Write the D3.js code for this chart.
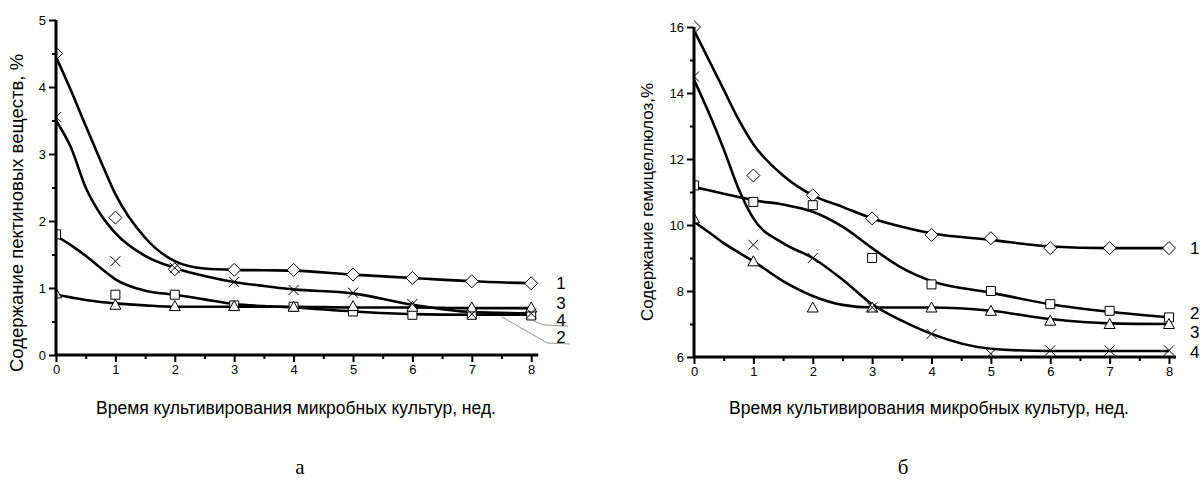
<html>
<head>
<meta charset="utf-8">
<title>Содержание пектиновых веществ и гемицеллюлоз</title>
<script src="https://cdn.jsdelivr.net/npm/d3@7"></script>
<style>
  body { margin: 0; background: #fff; }
  text { font-family: "Liberation Sans", Arial, sans-serif; fill: #000; }
</style>
</head>
<body>
<script>
// measured weeks and values (markers)
var weeks = [0, 1, 2, 3, 4, 5, 6, 7, 8];
var pectin1 = [4.5, 2.05, 1.28, 1.27, 1.27, 1.2, 1.15, 1.1, 1.07];
var pectin2 = [1.8, 0.9, 0.9, 0.74, 0.72, 0.65, 0.6, 0.6, 0.59];
var pectin3 = [0.92, 0.75, 0.73, 0.73, 0.72, 0.73, 0.72, 0.71, 0.71];
var pectin4 = [3.55, 1.4, 1.3, 1.09, 0.97, 0.93, 0.76, 0.61, 0.62];

var hemi1 = [16.0, 11.5, 10.9, 10.2, 9.7, 9.6, 9.3, 9.3, 9.3];
var hemi2 = [11.2, 10.7, 10.6, 9.0, 8.2, 8.0, 7.6, 7.4, 7.2];
var hemi3 = [10.2, 8.9, 7.5, 7.5, 7.5, 7.4, 7.1, 7.0, 7.0];
var hemi4 = [14.5, 9.4, 9.0, 7.5, 6.7, 6.1, 6.2, 6.2, 6.2];

// fitted curves
var fitWeeks = [0, 0.25, 0.5, 0.75, 1, 1.5, 2, 2.5, 3, 3.5, 4, 5, 6, 7, 8];
var pectinFit1 = [4.45, 3.95, 3.42, 2.9, 2.4, 1.75, 1.4, 1.29, 1.27, 1.265, 1.26, 1.2, 1.15, 1.1, 1.07];
var pectinFit2 = [1.78, 1.64, 1.48, 1.3, 1.13, 0.96, 0.9, 0.83, 0.76, 0.73, 0.71, 0.65, 0.61, 0.6, 0.6];
var pectinFit3 = [0.9, 0.86, 0.82, 0.79, 0.77, 0.74, 0.72, 0.72, 0.72, 0.72, 0.72, 0.71, 0.71, 0.7, 0.7];
var pectinFit4 = [3.5, 3.1, 2.5, 2.1, 1.82, 1.48, 1.3, 1.18, 1.09, 1.03, 0.98, 0.92, 0.75, 0.64, 0.62];

var hemiFit1 = [15.9, 15.0, 14.1, 13.2, 12.45, 11.5, 10.9, 10.55, 10.2, 9.95, 9.75, 9.55, 9.35, 9.3, 9.3];
var hemiFit2 = [11.15, 11.05, 10.95, 10.85, 10.75, 10.62, 10.4, 9.95, 9.3, 8.7, 8.3, 7.95, 7.6, 7.37, 7.2];
var hemiFit3 = [10.1, 9.78, 9.45, 9.17, 8.9, 8.3, 7.85, 7.58, 7.5, 7.5, 7.5, 7.4, 7.15, 7.02, 7.0];
var hemiFit4 = [14.4, 13.4, 12.3, 11.1, 10.2, 9.45, 9.0, 8.35, 7.6, 7.1, 6.7, 6.25, 6.18, 6.18, 6.18];

var seriesNames = ["1", "2", "3", "4"];
var markerTypes = ["diamond", "square", "triangle", "cross"];

var pectinLabelY = [1.075, 0.27, 0.776, 0.52];   // label positions for 1,2,3,4
var hemiLabelY = [9.3, 7.34, 6.77, 6.15];

// leader lines (left chart) in data units: for "2" and "4"
var leader2 = [[7.5, 0.57], [8.27, 0.18], [8.65, 0.165]];
var leader4 = [[7.93, 0.55], [8.2, 0.45], [8.62, 0.43]];

var xTicks = [0, 1, 2, 3, 4, 5, 6, 7, 8];
var xMinor = [0.5, 1.5, 2.5, 3.5, 4.5, 5.5, 6.5, 7.5];
var pectinTicks = [0, 1, 2, 3, 4, 5];
var pectinMinor = [0.5, 1.5, 2.5, 3.5, 4.5];
var hemiTicks = [6, 8, 10, 12, 14, 16];
var hemiMinor = [7, 9, 11, 13, 15];

var xTitle = "Время культивирования микробных культур, нед.";

var w = 1201, h = 480;
var svg = d3.select("body").append("svg").attr("width", w).attr("height", h);

function markerPath(type) {
    if (type == "diamond") return "M0,-6.5L6.5,0L0,6.5L-6.5,0Z";
    if (type == "square") return "M-4.5,-4.5H4.5V4.5H-4.5Z";
    if (type == "triangle") return "M0,-5.5L5.5,4.5L-5.5,4.5Z";
    return "M-5,-5L5,5M5,-5L-5,5";
}

function drawPanel(cfg) {
    var x = d3.scaleLinear().domain([0, 8]).range([cfg.left, cfg.right]);
    var y = d3.scaleLinear().domain(cfg.yDomain).range([cfg.bottom, cfg.top]);
    var g = svg.append("g");

    g.append("clipPath").attr("id", cfg.id + "clip")
        .append("rect").attr("x", cfg.left).attr("y", 0)
        .attr("width", w - cfg.left).attr("height", h);

    var plot = g.append("g").attr("clip-path", "url(#" + cfg.id + "clip)");

    var line = d3.line()
        .x(function(d) { return x(d[0]); })
        .y(function(d) { return y(d[1]); })
        .curve(d3.curveMonotoneX);

    cfg.fits.forEach(function(vals) {
        plot.append("path")
            .datum(fitWeeks.map(function(t, i) { return [t, vals[i]]; }))
            .attr("d", line)
            .attr("fill", "none")
            .attr("stroke", "#000")
            .attr("stroke-width", 2.6);
    });

    cfg.points.forEach(function(vals, s) {
        plot.selectAll(null)
            .data(weeks.map(function(t, i) { return [t, vals[i]]; }))
            .enter()
            .append("path")
            .attr("transform", function(d) { return "translate(" + x(d[0]) + "," + y(d[1]) + ")"; })
            .attr("d", markerPath(markerTypes[s]))
            .attr("fill", markerTypes[s] == "cross" ? "none" : "#fff")
            .attr("stroke", "#000")
            .attr("stroke-width", 1);
    });

    // leader lines
    (cfg.leaders || []).forEach(function(pts) {
        g.append("path")
            .attr("d", d3.line().x(function(d) { return x(d[0]); }).y(function(d) { return y(d[1]); })(pts))
            .attr("fill", "none").attr("stroke", "#777").attr("stroke-width", 0.8);
    });

    // series labels
    g.selectAll(null)
        .data(seriesNames)
        .enter()
        .append("text")
        .attr("x", cfg.right + cfg.labelDx)
        .attr("y", function(d, i) { return y(cfg.labelY[i]); })
        .attr("dy", "0.36em")
        .style("font-size", "17px")
        .text(function(d) { return d; });

    // axes
    var xAxis = g.append("g").attr("transform", "translate(0," + cfg.bottom + ")");
    xAxis.call(d3.axisBottom(x).tickValues(xTicks).tickSize(7).tickSizeOuter(0).tickPadding(3).tickFormat(d3.format("d")));
    xAxis.append("g").call(d3.axisBottom(x).tickValues(xMinor).tickSize(4).tickFormat(""));
    var yAxis = g.append("g").attr("transform", "translate(" + cfg.left + ",0)");
    yAxis.call(d3.axisLeft(y).tickValues(cfg.yTicks).tickSize(7).tickSizeOuter(0).tickPadding(3).tickFormat(d3.format("d")));
    yAxis.append("g").call(d3.axisLeft(y).tickValues(cfg.yMinor).tickSize(4).tickFormat(""));

    g.selectAll(".domain").remove();
    g.selectAll(".tick line").attr("stroke", "#000").attr("stroke-width", 2);
    g.selectAll(".tick text").style("font-size", "13px").style("font-family", "Liberation Sans, Arial, sans-serif");

    g.append("line")
        .attr("x1", cfg.left - 1).attr("x2", cfg.right + 7)
        .attr("y1", cfg.bottom).attr("y2", cfg.bottom)
        .attr("stroke", "#000").attr("stroke-width", 3);
    g.append("line")
        .attr("x1", cfg.left).attr("x2", cfg.left)
        .attr("y1", cfg.top).attr("y2", cfg.bottom + 1)
        .attr("stroke", "#000").attr("stroke-width", 3);

    // titles
    g.append("text")
        .attr("x", cfg.xTitleX).attr("y", 414)
        .attr("text-anchor", "middle")
        .style("font-size", "17.5px")
        .text(xTitle);
    g.append("text")
        .attr("transform", "translate(" + cfg.yTitleX + "," + cfg.yTitleY + ") rotate(-90)")
        .attr("text-anchor", "middle")
        .style("font-size", cfg.yTitleSize)
        .text(cfg.yTitle);
    g.append("text")
        .attr("x", cfg.captionX).attr("y", 474)
        .attr("text-anchor", "middle")
        .style("font-family", "Liberation Serif, Times New Roman, serif")
        .style("font-size", "21px")
        .text(cfg.caption);
}

drawPanel({
    id: "a", left: 56, right: 531.2, top: 20, bottom: 355,
    yDomain: [0, 5], yTicks: pectinTicks, yMinor: pectinMinor,
    fits: [pectinFit1, pectinFit2, pectinFit3, pectinFit4],
    points: [pectin1, pectin2, pectin3, pectin4],
    labelY: pectinLabelY, labelDx: 25,
    leaders: [leader2, leader4],
    xTitleX: 296, yTitleX: 23, yTitleY: 213, yTitleSize: "18.5px",
    yTitle: "Содержание пектиновых веществ, %",
    caption: "а", captionX: 300
});

drawPanel({
    id: "b", left: 694, right: 1169, top: 27, bottom: 357,
    yDomain: [6, 16], yTicks: hemiTicks, yMinor: hemiMinor,
    fits: [hemiFit1, hemiFit2, hemiFit3, hemiFit4],
    points: [hemi1, hemi2, hemi3, hemi4],
    labelY: hemiLabelY, labelDx: 21,
    leaders: [],
    xTitleX: 929, yTitleX: 653, yTitleY: 202, yTitleSize: "17px",
    yTitle: "Содержание гемицеллюлоз,%",
    caption: "б", captionX: 903
});
</script>
</body>
</html>
